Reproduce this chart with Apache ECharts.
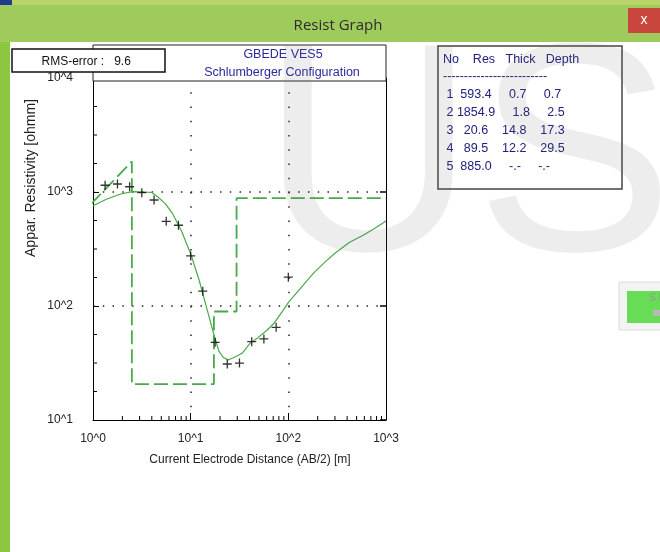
<!DOCTYPE html>
<html><head><meta charset="utf-8">
<script src="https://cdn.jsdelivr.net/npm/echarts@6/dist/echarts.min.js"></script>
<style>html,body{margin:0;padding:0;background:#fff;} #c{width:660px;height:552px;}</style>
</head><body><div id="c"></div>
<script>
// ---- data ----
const abHalf = [1.33, 1.78, 2.37, 3.16, 4.22, 5.62, 7.5, 10, 13.3, 17.8, 23.7, 31.6, 42.2, 56.2, 75, 100];
const observedRho = [1146, 1175, 1112, 986, 851, 553, 511, 275, 135, 48, 31, 31.6, 48.6, 51.4, 65, 179];
const fitX = [1, 1.37, 1.92, 2.54, 3.2, 4.0, 4.65, 5.5, 6.5, 8.1, 10.1, 12.2, 15.1, 17.5, 19.5, 21.5, 24.2, 28, 33.6, 40.5, 47.1, 60, 71.8, 88.8, 100.7, 140, 181, 240, 300, 420, 590, 800, 1000];
const fitRho = [758, 863, 960, 1007, 1003, 990, 900, 790, 650, 450, 280, 169, 86, 54, 40, 35.5, 33.6, 35.5, 38.5, 47, 51.5, 61, 71, 92, 108, 150, 194, 245, 290, 360, 420, 490, 557];
const layerNo = [1, 2, 3, 4, 5];
const layerRes = [593.4, 1854.9, 20.6, 89.5, 885.0];
const layerThick = [0.7, 1.8, 14.8, 12.2, null];
const layerDepth = [0.7, 2.5, 17.3, 29.5, null];
const rmsError = 9.6;
const xTickLabels = ['10^0', '10^1', '10^2', '10^3'];
const yTickLabels = ['10^1', '10^2', '10^3', '10^4'];
const chartTitle = ['GBEDE VES5', 'Schlumberger Configuration'];
const xName = 'Current Electrode Distance (AB/2) [m]';
const yName = 'Appar. Resistivity [ohmm]';
const windowTitle = 'Resist Graph';
const tableHeader = 'No    Res   Thick   Depth';

// ---- derived ----
const X_MIN = 1, X_MAX = 1000, Y_MIN = 10, Y_MAX = 10000;
const modelLine = [[layerDepth[0], layerRes[0]]];
for (let i = 1; i < layerRes.length - 1; i++) {
  modelLine.push([layerDepth[i], layerRes[i]]);
  modelLine.push([layerDepth[i], layerRes[i + 1]]);
}
modelLine.push([X_MAX, layerRes[layerRes.length - 1]]);

const xMinor = [];
for (let d = 1; d < X_MAX; d *= 10) for (let k = 2; k <= 9; k++) xMinor.push(k * d);
const yMinor = [];
for (let e = 1; e < 4; e++) for (let q = 1; q <= 3; q++) yMinor.push(Math.pow(10, e + q / 4));

const fmt = v => v == null ? '-.-' : v.toFixed(1);
const tableRows = layerNo.map((n, i) =>
  String(n).padStart(2) + ' ' + fmt(layerRes[i]).padStart(6) + '   ' +
  fmt(layerThick[i]).padStart(5) + '   ' + fmt(layerDepth[i]).padStart(5));

const FONT = '"Liberation Sans", Arial, sans-serif';
const GREEN = '#48aa48';
const chart = echarts.init(document.getElementById('c'), null, {renderer: 'canvas'});

const graphic = [
  // window chrome
  {type: 'rect', z: 110, shape: {x: 0, y: 0, width: 660, height: 42}, style: {fill: '#9fca5c'}},
  {type: 'rect', z: 111, shape: {x: 0, y: 0, width: 660, height: 5}, style: {fill: '#b9d56a'}},
  {type: 'rect', z: 112, shape: {x: 0, y: 0, width: 12, height: 5}, style: {fill: '#1f3d8a'}},
  {type: 'rect', z: 110, shape: {x: 0, y: 42, width: 10, height: 510}, style: {fill: '#8dc63f'}},
  {type: 'rect', z: 112, shape: {x: 628, y: 8, width: 32, height: 25}, style: {fill: '#c9463d'}},
  {type: 'text', z: 113, x: 644, y: 20, style: {text: 'x', fill: '#fff', font: '14px ' + FONT, align: 'center', verticalAlign: 'middle'}},
  {type: 'text', z: 113, x: 338, y: 26, style: {text: windowTitle, fill: '#2d2d2d', font: '15px "Open Sans", ' + FONT, align: 'center', verticalAlign: 'middle'}},
  // right-side button
  {type: 'rect', z: 40, shape: {x: 619, y: 282, width: 45, height: 48}, style: {fill: '#f3f3f3', stroke: '#dcdcdc', lineWidth: 1}},
  {type: 'rect', z: 41, shape: {x: 627, y: 291, width: 40, height: 32}, style: {fill: '#66dd55'}},
  {type: 'text', z: 42, x: 649, y: 298, style: {text: 'S I', fill: '#9a9a9a', font: '10px ' + FONT, align: 'left', verticalAlign: 'middle'}},
  {type: 'rect', z: 42, shape: {x: 653, y: 310, width: 10, height: 6}, style: {fill: '#b8b8b8'}},
  // header box
  {type: 'rect', z: 50, shape: {x: 93, y: 45, width: 293, height: 36}, style: {fill: '#fff', stroke: '#222', lineWidth: 1}},
  {type: 'text', z: 51, x: 283, y: 55, style: {text: chartTitle[0], fill: '#2a2a9e', font: '12.5px ' + FONT, align: 'center', verticalAlign: 'middle'}},
  {type: 'text', z: 51, x: 282, y: 72.5, style: {text: chartTitle[1], fill: '#2a2a9e', font: '12.5px ' + FONT, align: 'center', verticalAlign: 'middle'}},
  // RMS box
  {type: 'rect', z: 60, shape: {x: 12, y: 49, width: 153, height: 23}, style: {fill: '#fff', stroke: '#111', lineWidth: 1.5}},
  {type: 'text', z: 61, x: 41.5, y: 62, style: {text: 'RMS-error :   ' + rmsError.toFixed(1), fill: '#111', font: '12px ' + FONT, align: 'left', verticalAlign: 'middle'}},
  // table
  {type: 'rect', z: 50, shape: {x: 438, y: 46, width: 184, height: 143}, style: {fill: '#fff', stroke: '#444', lineWidth: 1.5}},
  {type: 'text', z: 51, x: 443, y: 59.5, style: {text: tableHeader, fill: '#20207e', font: '12.5px ' + FONT, align: 'left', verticalAlign: 'middle'}},
  {type: 'text', z: 51, x: 443, y: 77, style: {text: '-'.repeat(25), fill: '#20207e', font: '12.5px ' + FONT, align: 'left', verticalAlign: 'middle'}},
  ...tableRows.map((t, i) => ({type: 'text', z: 51, x: 443, y: 95 + i * 17.9,
    style: {text: t, fill: '#20207e', font: '12.5px ' + FONT, align: 'left', verticalAlign: 'middle'}})),
  // axis names
  {type: 'text', z: 30, x: 250, y: 460, style: {text: xName, fill: '#222', font: '12px ' + FONT, align: 'center', verticalAlign: 'middle'}},
  {type: 'text', z: 30, x: 31, y: 178, rotation: Math.PI / 2, style: {text: yName, fill: '#222', font: '14px ' + FONT, align: 'center', verticalAlign: 'middle'}},
  // watermark
  {type: 'text', z: 100, silent: true, x: 261, y: 168, style: {text: 'US', fill: 'rgba(110,110,110,0.12)', font: '297px ' + FONT, align: 'left', verticalAlign: 'middle'}}
];

const axisTxt = {color: '#222', fontSize: 12, fontFamily: FONT};

chart.setOption({
  backgroundColor: '#ffffff',
  animation: false,
  grid: {left: 93, top: 78, width: 293, height: 342},
  xAxis: {
    type: 'log', logBase: 10, min: X_MIN, max: X_MAX, splitNumber: 3,
    axisLine: {show: true, onZero: false, lineStyle: {color: '#000', width: 1}},
    axisTick: {show: true, inside: true, length: 7, lineStyle: {color: '#000', width: 1}},
    axisLabel: Object.assign({margin: 13, formatter: v => xTickLabels[Math.round(Math.log10(v))]}, axisTxt),
    splitLine: {show: true, showMinLine: false, showMaxLine: false, lineStyle: {color: '#222', width: 1.5, type: [1.5, 12.75]}}
  },
  yAxis: [{
    type: 'log', logBase: 10, min: Y_MIN, max: Y_MAX, splitNumber: 3, position: 'left',
    axisLine: {show: true, onZero: false, lineStyle: {color: '#000', width: 1}},
    axisTick: {show: true, inside: true, length: 6, lineStyle: {color: '#000', width: 1}},
    axisLabel: Object.assign({margin: 20, formatter: v => yTickLabels[Math.round(Math.log10(v)) - 1]}, axisTxt),
    splitLine: {show: true, showMinLine: false, showMaxLine: false, lineStyle: {color: '#222', width: 1.5, type: [1.5, 8.27]}}
  }, {
    type: 'log', logBase: 10, min: Y_MIN, max: Y_MAX, splitNumber: 3, position: 'right',
    axisLine: {show: true, onZero: false, lineStyle: {color: '#000', width: 1}},
    axisTick: {show: true, inside: true, length: 6, lineStyle: {color: '#000', width: 1.5}},
    axisLabel: {show: false}, splitLine: {show: false}
  }],
  graphic: graphic,
  series: [
    {name: 'model', type: 'line', data: modelLine, showSymbol: false, symbol: 'none', z: 3,
     lineStyle: {color: GREEN, width: 1.8, type: [14, 5]}},
    {name: 'fit', type: 'line', data: fitX.map((x, i) => [x, fitRho[i]]), showSymbol: false, symbol: 'none', z: 4,
     lineStyle: {color: GREEN, width: 1.2}},
    {name: 'observed', type: 'scatter', data: abHalf.map((x, i) => [x, observedRho[i]]), z: 5,
     symbol: 'path://M5 0L5 10M0 5L10 5', symbolSize: 9,
     itemStyle: {color: 'rgba(0,0,0,0)', borderColor: '#000', borderWidth: 1.3}},
    {name: 'xminor', type: 'custom', silent: true, z: 6, clip: false,
     data: xMinor.map(v => [v, Y_MIN]),
     renderItem: (p, api) => { const c = api.coord([api.value(0), api.value(1)]);
       return {type: 'line', shape: {x1: c[0], y1: c[1], x2: c[0], y2: c[1] - 4}, style: {stroke: '#000', lineWidth: 1}}; }},
    {name: 'yminor', type: 'custom', silent: true, z: 6, clip: false,
     data: yMinor.map(v => [X_MIN, v]),
     renderItem: (p, api) => { const c = api.coord([api.value(0), api.value(1)]);
       return {type: 'line', shape: {x1: c[0], y1: c[1], x2: c[0] + 4, y2: c[1]}, style: {stroke: '#000', lineWidth: 1}}; }}
  ]
});
</script></body></html>
